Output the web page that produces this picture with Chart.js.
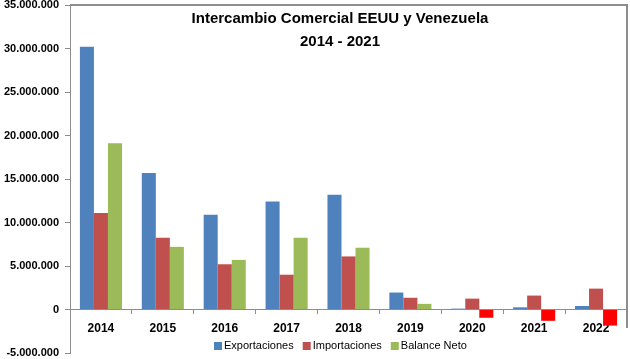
<!DOCTYPE html>
<html>
<head>
<meta charset="utf-8">
<script src="https://cdn.jsdelivr.net/npm/chart.js@4"></script>
<style>
  html, body { margin: 0; padding: 0; background: #fff; }
  #wrap { width: 630px; height: 359px; position: relative; }
</style>
</head>
<body>
<div id="wrap"><canvas id="myChart"></canvas></div>
<script>
// data
const years = ['2014', '2015', '2016', '2017', '2018', '2019', '2020', '2021', '2022']
const exportaciones = [30200000, 15700000, 10900000, 12400000, 13200000, 1950000, 100000, 250000, 400000]
const importaciones = [11100000, 8250000, 5200000, 4000000, 6100000, 1350000, 1250000, 1600000, 2400000]
const balanceNeto = [19100000, 7200000, 5700000, 8250000, 7100000, 650000, -950000, -1300000, -1850000]
const titleLines = ['Intercambio Comercial EEUU y Venezuela', '2014 - 2021']

const FONT = '"Liberation Sans", Arial, sans-serif'

function formatMiles(v){
    // 35000000 -> 35.000.000
    let s = Math.abs(v).toString().replace(/\B(?=(\d{3})+(?!\d))/g, '.')
    return (v < 0 ? '-' : '') + s
}

// title, frame and legend are drawn on top of the plot like the original
const overlay = {
    id: 'overlay',
    afterDraw(chart){
        const c = chart.ctx
        const a = chart.chartArea
        c.save()
        // frame top / right
        c.strokeStyle = '#8c8c8c'
        c.lineWidth = 2
        c.beginPath()
        c.moveTo(a.left, a.top)
        c.lineTo(a.right, a.top)
        c.lineTo(a.right, a.bottom - 25)
        c.stroke()

        // title
        c.fillStyle = '#000'
        c.textAlign = 'center'
        c.textBaseline = 'middle'
        c.font = 'bold 15px ' + FONT
        c.fillText(titleLines[0], 340, 19)
        c.fillText(titleLines[1], 340, 42)

        // legend
        const items = [
            ['Exportaciones', '#4F81BD'],
            ['Importaciones', '#C0504D'],
            ['Balance Neto', '#9BBB59']
        ]
        c.font = '11px ' + FONT
        c.textAlign = 'left'
        let x = 214
        items.forEach(it => {
            c.fillStyle = it[1]
            c.fillRect(x, 342, 8, 8)
            c.fillStyle = '#000'
            c.fillText(it[0], x + 10, 346)
            x += 10 + c.measureText(it[0]).width + 9
        })
        c.restore()
    }
}

const ctx = document.getElementById('myChart')
let myChart = new Chart(ctx, {
    type: 'bar',
    data: {
        labels: years,
        datasets: [{
            label: 'Exportaciones',
            data: exportaciones,
            backgroundColor: '#4F81BD'
        }, {
            label: 'Importaciones',
            data: importaciones,
            backgroundColor: '#C0504D'
        }, {
            label: 'Balance Neto',
            data: balanceNeto,
            // negative balance shows in plain red
            backgroundColor: (c) => (c.raw < 0 ? '#FF0000' : '#9BBB59')
        }]
    },
    options: {
        responsive: true,
        maintainAspectRatio: false,
        animation: false,
        layout: { padding: { top: 5, right: 3, bottom: 6, left: 0 } },
        datasets: {
            bar: { categoryPercentage: 0.68, barPercentage: 1.0 }
        },
        plugins: {
            legend: { display: false },
            title: { display: false },
            tooltip: { enabled: false }
        },
        scales: {
            x: {
                position: { y: 0 },
                grid: {
                    drawOnChartArea: false,
                    drawTicks: true,
                    tickLength: 4,
                    color: '#8c8c8c'
                },
                border: { display: true, color: '#8c8c8c', width: 1 },
                ticks: {
                    color: '#000',
                    padding: 8,
                    font: { family: FONT, size: 12, weight: 'bold' }
                }
            },
            y: {
                min: -5000000,
                max: 35000000,
                grid: {
                    drawOnChartArea: false,
                    drawTicks: true,
                    tickLength: 5,
                    color: '#8c8c8c'
                },
                border: { display: true, color: '#8c8c8c', width: 1 },
                ticks: {
                    stepSize: 5000000,
                    color: '#000',
                    padding: 6,
                    font: { family: FONT, size: 11, weight: 'bold', lineHeight: 0.1 },
                    callback: (v) => formatMiles(v)
                },
                afterFit: (scale) => {
                    scale.width = 70
                    scale.paddingTop = 0
                    scale.paddingBottom = 0
                }
            }
        }
    },
    plugins: [overlay]
})
</script>
</body>
</html>
